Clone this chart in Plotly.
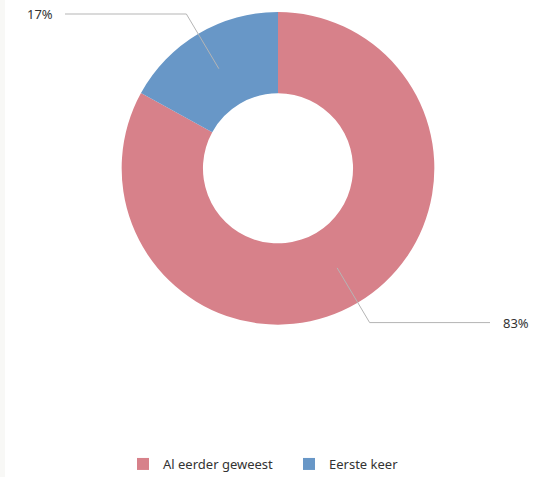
import math
import plotly.graph_objects as go

labels = ["Al eerder geweest", "Eerste keer"]
values = [83, 17]
colors = ["#d7818a", "#6897c7"]

W, H = 560, 479
CX, CY, R = 278, 169, 157
HOLE = 0.48
ELBOW_R = 180
LINE_END_X = {0: 490, 1: 65}


def px(x):
    return x / W


def py(y):
    return 1 - y / H


fig = go.Figure()
fig.add_trace(go.Pie(
    labels=labels, values=values, hole=HOLE, sort=False, direction="clockwise",
    rotation=0, marker=dict(colors=colors, line=dict(width=0)),
    textinfo="none", hoverinfo="label+percent",
    domain=dict(x=[px(CX - R), px(CX + R)], y=[py(CY + R), py(CY - R)]),
))

total = sum(values)
cum = 0
shapes, annotations = [], []
for i, v in enumerate(values):
    mid = (cum + v / 2) / total * 2 * math.pi
    cum += v
    dx, dy = math.sin(mid), -math.cos(mid)
    r0 = R * (1 + HOLE) / 2
    x0, y0 = CX + dx * r0, CY + dy * r0
    x1, y1 = CX + dx * ELBOW_R, CY + dy * ELBOW_R
    x2 = LINE_END_X[i]
    path = f"M {px(x0)},{py(y0)} L {px(x1)},{py(y1)} L {px(x2)},{py(y1)}"
    shapes.append(dict(type="path", xref="paper", yref="paper", path=path,
                       line=dict(color="#b5b5b5", width=1)))
    pct = f"{round(v / total * 100)}%"
    right = x2 > x1
    annotations.append(dict(
        x=px(x2 + (11 if right else -10)), y=py(max(y1, 10)), xref="paper", yref="paper",
        text=pct, showarrow=False, xanchor="left" if right else "right", yanchor="middle",
        font=dict(size=13, color="#333333"),
    ))

shapes.append(dict(type="rect", xref="paper", yref="paper", x0=0, x1=px(5), y0=0, y1=1,
                   fillcolor="#f8f8f6", line=dict(width=0), layer="below"))

fig.update_layout(
    width=W, height=H,
    margin=dict(l=0, r=0, t=0, b=0),
    paper_bgcolor="white", plot_bgcolor="white",
    font=dict(family="Noto Sans, sans-serif", size=13, color="#333333"),
    showlegend=True,
    legend=dict(orientation="h", x=px(123), xanchor="left", y=py(466), yanchor="middle",
                font=dict(size=13, color="#333333"), itemsizing="constant",
                traceorder="normal", entrywidth=121),
    shapes=shapes, annotations=annotations,
)

fig.write_html("out.html", config={"displayModeBar": False},
               post_script="document.body.style.margin='0';")
